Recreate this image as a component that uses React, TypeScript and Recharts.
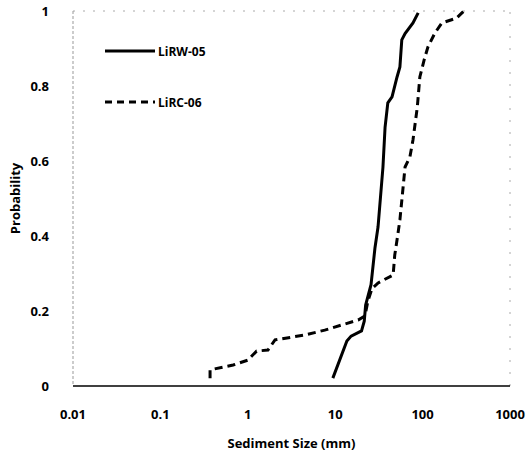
import React from 'react';
import {
  LineChart,
  Line,
  XAxis,
  YAxis,
  ReferenceLine
} from 'recharts';

// LiRW-05 (solid)
const rwSize = [9.4, 13.6, 15.2, 20, 21.5, 22.3, 25.7, 28.5, 30.9, 35.2, 37.2, 40, 44.7, 51, 55, 57.8, 63, 77.6, 89];
const rwProb = [0.021, 0.12, 0.133, 0.147, 0.173, 0.216, 0.27, 0.368, 0.424, 0.584, 0.69, 0.755, 0.771, 0.824, 0.851, 0.923, 0.94, 0.968, 0.995];

// LiRC-06 (dashed)
const rcSize = [0.37, 0.37, 0.68, 1.0, 1.26, 1.7, 2.05, 4.5, 7.6, 12, 18.3, 21.9, 23.7, 26.4, 31, 46, 48, 52, 55, 63, 71.6, 77.6, 87, 93, 104, 115, 138, 166, 245, 282, 297];
const rcProb = [0.021, 0.043, 0.056, 0.069, 0.093, 0.096, 0.123, 0.136, 0.149, 0.163, 0.176, 0.187, 0.227, 0.26, 0.275, 0.296, 0.349, 0.403, 0.443, 0.584, 0.611, 0.656, 0.744, 0.824, 0.869, 0.904, 0.941, 0.968, 0.981, 0.995, 1.0];

const xTicks = [0.01, 0.1, 1, 10, 100, 1000];
const yTicks = [0, 0.2, 0.4, 0.6, 0.8, 1];

const rwData = rwSize.map((s, i) => ({ size: s, prob: rwProb[i] }));
const rcData = rcSize.map((s, i) => ({ size: s, prob: rcProb[i] }));

const font = '"Open Sans", "DejaVu Sans", sans-serif';

// legend drawn as an overlay so it doesn't eat into the plot area
const LegendBox = () => (
  <svg width={130} height={80} style={{ position: 'absolute', left: 105, top: 40 }}>
    <line x1={0} y1={11} x2={50} y2={11} stroke="#000" strokeWidth={3} />
    <text x={53} y={16} fontSize={12} fontWeight={700} fontFamily={font}>LiRW-05</text>
    <line x1={0} y1={62} x2={50} y2={62} stroke="#000" strokeWidth={3} strokeDasharray="7 5" />
    <text x={53} y={67} fontSize={12} fontWeight={700} fontFamily={font}>LiRC-06</text>
  </svg>
);

const App = () => {
  return (
    <div style={{ position: 'absolute', left: 0, top: 0, width: 530, height: 456, background: '#fff' }}>
      <LineChart width={530} height={456} margin={{ top: 11, right: 20, bottom: 0, left: 0 }}>
        <XAxis
          type="number"
          dataKey="size"
          scale="log"
          domain={[0.01, 1000]}
          ticks={xTicks}
          allowDataOverflow
          height={70}
          tickLine={false}
          tickMargin={18}
          stroke="#000"
          strokeWidth={1.5}
          tick={{ fill: '#000', fontSize: 13, fontWeight: 700, fontFamily: font }}
          tickFormatter={(v: number) => String(v)}
          label={{ value: 'Sediment Size (mm)', position: 'insideBottom', offset: 8, fill: '#000', fontSize: 13, fontWeight: 700, fontFamily: font }}
        />
        <YAxis
          type="number"
          domain={[0, 1]}
          ticks={yTicks}
          width={73}
          tickLine={false}
          tickMargin={18}
          stroke="#999"
          strokeDasharray="3 2"
          tick={{ fill: '#000', fontSize: 13, fontWeight: 700, fontFamily: font }}
          tickFormatter={(v: number) => String(v)}
          label={{ value: 'Probability', angle: -90, position: 'insideLeft', offset: 15, fill: '#000', fontSize: 13, fontWeight: 700, fontFamily: font, style: { textAnchor: 'middle' } }}
        />
        <ReferenceLine y={1} stroke="#aaa" strokeDasharray="2 8" />
        <ReferenceLine x={1000} stroke="#aaa" strokeDasharray="2 10" />
        <Line
          data={rwData}
          dataKey="prob"
          name="LiRW-05"
          type="linear"
          stroke="#000"
          strokeWidth={3}
          dot={false}
          isAnimationActive={false}
        />
        <Line
          data={rcData}
          dataKey="prob"
          name="LiRC-06"
          type="linear"
          stroke="#000"
          strokeWidth={3}
          strokeDasharray="8 5"
          dot={false}
          isAnimationActive={false}
        />
      </LineChart>
      <LegendBox />
    </div>
  );
};

export default App;
